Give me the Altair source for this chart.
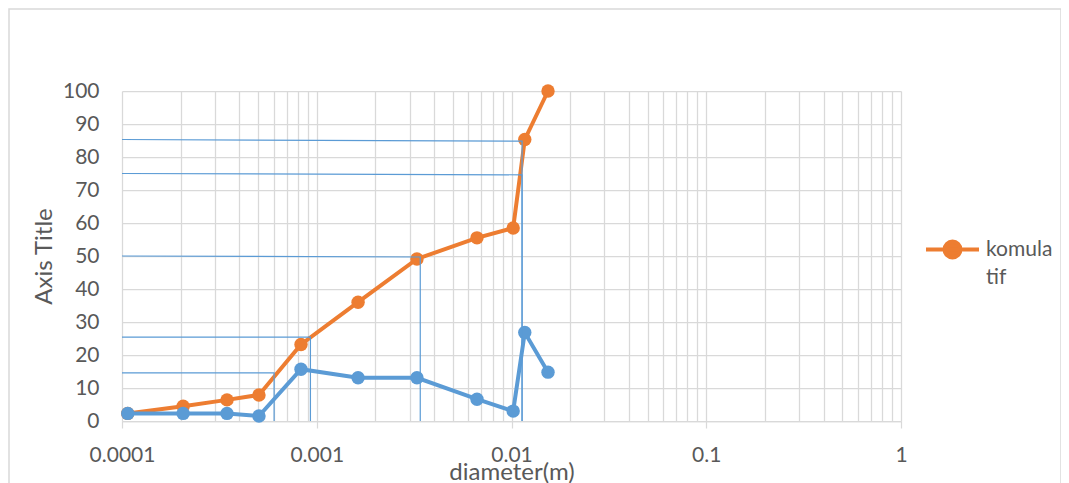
import altair as alt
import pandas as pd

# ---- data ----
diam = [0.000107, 0.000206, 0.000346, 0.000505, 0.00083, 0.00163,
        0.00327, 0.00665, 0.0102, 0.0117, 0.0154]
komulatif = [2.3, 4.5, 6.4, 7.9, 23.2, 36.0, 49.1, 55.5, 58.5, 85.3, 100.0]
persen = [2.3, 2.3, 2.3, 1.5, 15.7, 13.1, 13.1, 6.6, 3.0, 26.8, 14.8]

# helper read-off lines (x, y) per line
helper_ids = ["h15", "h15", "h15", "h25", "h25", "h25", "h50", "h50", "h50",
              "h75", "h75", "h75", "h85", "h85", "h85"]
helper_x = [0.0001, 0.000604, 0.000604,
            0.0001, 0.000928, 0.000928,
            0.0001, 0.0034, 0.0034,
            0.0001, 0.01133, 0.01133,
            0.0001, 0.01133, 0.01133]
helper_y = [14.6, 14.6, 0,
            25.4, 25.4, 0,
            50.0, 49.7, 0,
            75.0, 74.6, 0,
            85.3, 84.8, 0]

series_name = "komula tif"
decades = [0.0001, 0.001, 0.01, 0.1, 1]
x_ticks = [float(f"{m}e{k}") for k in range(-4, 0) for m in range(1, 10)] + [1.0]
y_ticks = list(range(0, 101, 10))

ORANGE = "#ED7D31"
BLUE = "#5B9BD5"
GRID = "#d9d9d9"
TXT = "#595959"
FONT = "Lato"
LBL = 21
TTL = 24

df_or = pd.DataFrame({"d": diam, "v": komulatif, "s": series_name, "i": range(len(diam))})
df_bl = pd.DataFrame({"d": diam, "v": persen, "i": range(len(diam))})
df_h = pd.DataFrame({"id": helper_ids, "d": helper_x, "v": helper_y,
                     "i": list(range(len(helper_x)))})

dec_test = "indexof(" + str(decades) + ", datum.value) >= 0"

x_axis = alt.Axis(values=x_ticks, grid=True,
                  labelExpr=f"{dec_test} ? toString(datum.value) : ''",
                  labelFlush=False,
                  tickColor=GRID, tickSize=7, tickWidth=1.25,
                  tickOpacity={"condition": {"test": dec_test, "value": 1}, "value": 0},
                  domainColor=GRID, domainWidth=1.25, labelPadding=16,
                  title="diameter(m)", titleY=58, titleBaseline="alphabetic")
y_axis = alt.Axis(values=y_ticks, grid=True, ticks=False, domain=False, labelPadding=23,
                  title="Axis Title", titleX=-71, titleY=165, titleAngle=270,
                  titleAlign="center", titleBaseline="alphabetic")

x_scale = alt.Scale(type="log", domain=[0.0001, 1])
y_scale = alt.Scale(domain=[0, 100], nice=False)

color_scale = alt.Scale(domain=[series_name], range=[ORANGE])
color_enc = alt.Color("s:N", scale=color_scale,
                      legend=alt.Legend(title=None, orient="none", legendX=802, legendY=130,
                                        symbolType="M-1,0H1M-0.3,0A0.3,0.3,0,1,1,0.3,0A0.3,0.3,0,1,1,-0.3,0Z",
                                        symbolSize=2809, symbolStrokeWidth=4,
                                        symbolFillColor=ORANGE, symbolStrokeColor=ORANGE,
                                        labelExpr="['komula', 'tif']",
                                        labelFont=FONT, labelFontSize=LBL, labelColor=TXT,
                                        labelOffset=5, labelLimit=200, padding=0))


def xy():
    return dict(x=alt.X("d:Q", scale=x_scale, axis=x_axis),
                y=alt.Y("v:Q", scale=y_scale, axis=y_axis))


orange_line = alt.Chart(df_or).mark_line(strokeWidth=4).encode(
    **xy(), order="i:Q", color=color_enc)
orange_pts = alt.Chart(df_or).mark_circle(size=180, opacity=1).encode(
    **xy(), color=alt.Color("s:N", scale=color_scale, legend=None))
blue_line = alt.Chart(df_bl).mark_line(strokeWidth=4, color=BLUE).encode(
    **xy(), order="i:Q")
blue_pts = alt.Chart(df_bl).mark_circle(size=180, opacity=1, color=BLUE).encode(**xy())
helpers = alt.Chart(df_h).mark_line(strokeWidth=1.2, color=BLUE).encode(
    **xy(), detail="id:N", order="i:Q")

frame = alt.Chart(pd.DataFrame({"k": [0]})).mark_rect(
    fill=None, stroke=GRID, strokeWidth=1.5, clip=False).encode(
    x=alt.value(-113), x2=alt.value(939), y=alt.value(-82), y2=alt.value(430))

chart = alt.layer(orange_line, orange_pts, blue_line, blue_pts, helpers, frame).properties(
    width=779, height=330,
    padding={"left": 114, "top": 83, "right": 160, "bottom": 62},
    autosize=alt.AutoSizeParams(type="none"),
).configure(
    background="white", style={"guide-label": {"lineHeight": 28}}
).configure_view(stroke=None).configure_axis(
    labelFont=FONT, labelFontSize=LBL, labelColor=TXT, labelOverlap=False,
    titleFont=FONT, titleFontSize=TTL, titleFontWeight="normal", titleColor=TXT,
    gridColor=GRID, gridWidth=1.25,
)

chart.save("out.html", embed_options={"renderer": "svg", "actions": False})
